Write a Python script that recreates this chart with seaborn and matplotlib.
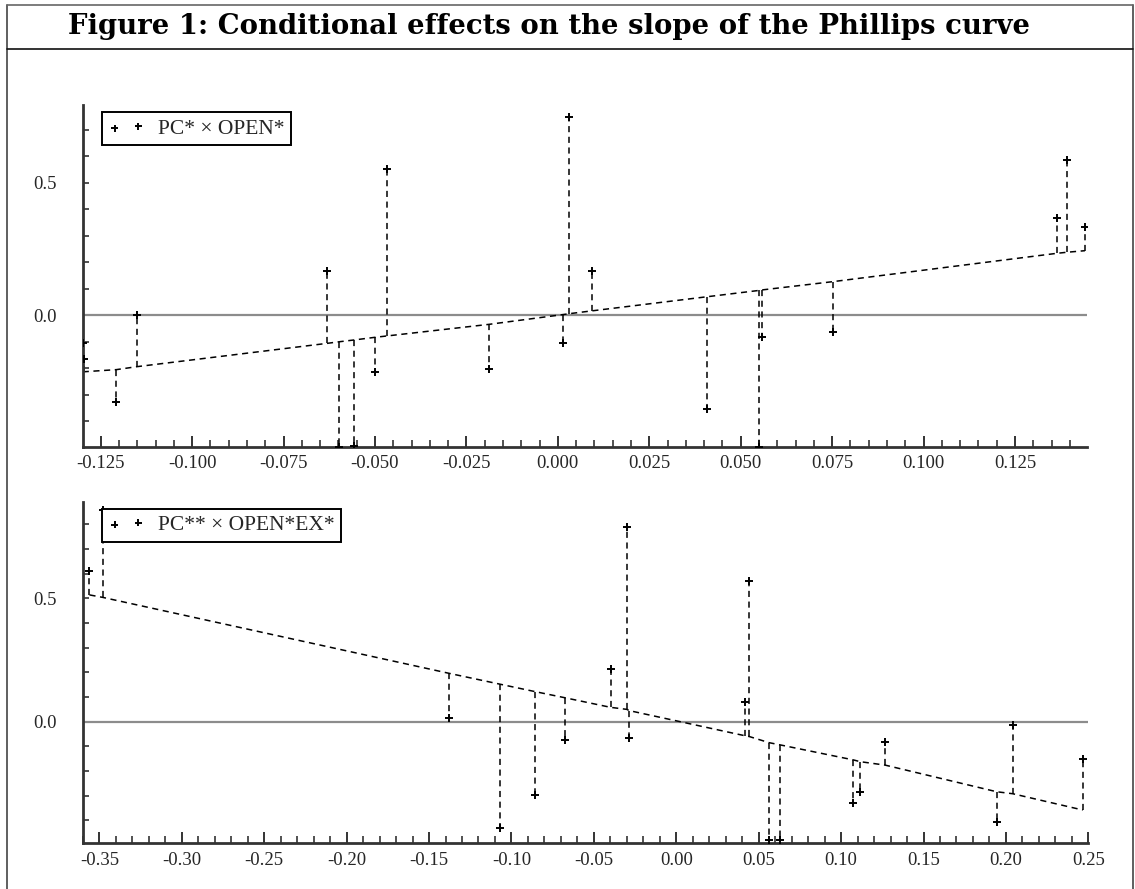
import matplotlib
matplotlib.use("Agg")
import matplotlib.pyplot as plt
from matplotlib.ticker import MultipleLocator, FormatStrFormatter
from matplotlib.lines import Line2D
import seaborn as sns
import pandas as pd

# ---------------- data ----------------
title = "Figure 1: Conditional effects on the slope of the Phillips curve"

top_label = "PC* × OPEN*"
top_x = [-0.1299, -0.1296, -0.1207, -0.1152, -0.0632, -0.0599, -0.0557, -0.0500,
         -0.0468, -0.0188, 0.0015, 0.0030, 0.0094, 0.0407, 0.0550, 0.0559,
         0.0751, 0.1364, 0.1391, 0.1441]
top_y = [-0.107, -0.167, -0.327, 0.000, 0.166, -0.497, -0.495, -0.214,
         0.550, -0.205, -0.107, 0.749, 0.167, -0.356, -0.497, -0.084,
         -0.063, 0.365, 0.586, 0.334]
top_fit = [-0.214, -0.214, -0.206, -0.195, -0.107, -0.101, -0.094, -0.084,
           -0.079, -0.035, 0.002, 0.005, 0.016, 0.069, 0.093, 0.095,
           0.126, 0.233, 0.237, 0.243]
top_xticks = [-0.125, -0.100, -0.075, -0.050, -0.025, 0.000, 0.025, 0.050, 0.075, 0.100, 0.125]

bot_label = "PC** × OPEN*EX*"
bot_x = [-0.356, -0.348, -0.1378, -0.1069, -0.0857, -0.0675, -0.0397, -0.0300,
         -0.0286, 0.0417, 0.0442, 0.0563, 0.0630, 0.1075, 0.1115, 0.1267,
         0.1944, 0.2041, 0.2466]
bot_y = [0.612, 0.858, 0.014, -0.432, -0.297, -0.074, 0.212, 0.788,
         -0.065, 0.081, 0.570, -0.480, -0.480, -0.328, -0.284, -0.081,
         -0.405, -0.013, -0.152]
bot_fit = [0.514, 0.504, 0.196, 0.152, 0.122, 0.097, 0.058, 0.050,
           0.045, -0.057, -0.060, -0.085, -0.094, -0.155, -0.162, -0.176,
           -0.284, -0.292, -0.358]
bot_xticks = [-0.35, -0.30, -0.25, -0.20, -0.15, -0.10, -0.05, 0.00, 0.05, 0.10, 0.15, 0.20, 0.25]

# ---------------- style ----------------
sns.set_theme(style="white")
plt.rcParams["font.family"] = ["Liberation Serif", "DejaVu Serif"]
plt.rcParams["axes.unicode_minus"] = False

fig = plt.figure(figsize=(11.35, 8.89), dpi=100)
fig.patch.set_facecolor("white")

# frame of the figure box
fig.add_artist(Line2D([7/1135, 7/1135], [0, 1 - 4.5/889], transform=fig.transFigure, color="#444444", lw=1.2))
fig.add_artist(Line2D([1133/1135, 1133/1135], [0, 1 - 4.5/889], transform=fig.transFigure, color="#444444", lw=1.2))
fig.add_artist(Line2D([7/1135, 1133/1135], [1 - 4.5/889, 1 - 4.5/889], transform=fig.transFigure, color="#666666", lw=1.2))
fig.add_artist(Line2D([7/1135, 1133/1135], [1 - 49/889, 1 - 49/889], transform=fig.transFigure, color="#111111", lw=1.2))

fig.text(68/1135, 1 - 27/889, title, fontfamily="DejaVu Serif", fontweight="bold",
         fontsize=19.8, va="center", ha="left", color="black")

ax1 = fig.add_axes([0.0729, 0.4975, 0.8846, 0.3844])
ax2 = fig.add_axes([0.0729, 0.0514, 0.8860, 0.3843])


def panel(ax, xs, ys, fits, label, xlim, ylim, xticks, xminor, xfmt):
    df = pd.DataFrame({"x": xs, "y": ys, "fit": fits})
    ax.axhline(0, color="#8c8c8c", lw=1.6, zorder=1)
    sns.lineplot(data=df.sort_values("x"), x="x", y="fit", estimator=None, sort=True,
                 ax=ax, color="black", lw=1.1, dashes=False, zorder=2)
    ax.lines[-1].set_dashes((4, 3))
    ax.vlines(df["x"], df["fit"], df["y"], colors="black", linestyles=(0, (4, 3)),
              lw=1.1, zorder=2)
    sns.scatterplot(data=df, x="x", y="y", ax=ax, marker="+", s=26, color="black",
                    linewidth=1.4, label=label, zorder=3)
    ax.set_xlim(*xlim)
    ax.set_ylim(*ylim)
    ax.set_xlabel("")
    ax.set_ylabel("")
    ax.set_xticks(xticks)
    ax.xaxis.set_minor_locator(MultipleLocator(xminor))
    ax.xaxis.set_major_formatter(FormatStrFormatter(xfmt))
    ax.yaxis.set_major_locator(MultipleLocator(0.5))
    ax.yaxis.set_minor_locator(MultipleLocator(0.1))
    ax.yaxis.set_major_formatter(FormatStrFormatter("%.1f"))
    for s in ["top", "right"]:
        ax.spines[s].set_visible(False)
    for s in ["left", "bottom"]:
        ax.spines[s].set_color("#333333")
        ax.spines[s].set_linewidth(2.0)
    ax.tick_params(axis="x", which="major", direction="in", length=8, width=1.4,
                   color="#333333", labelsize=13.5, pad=6, bottom=True)
    ax.tick_params(axis="x", which="minor", direction="in", length=5, width=1.2,
                   color="#333333", bottom=True)
    ax.tick_params(axis="y", which="both", direction="in", length=4, width=1.2,
                   color="#333333", labelsize=13.5, pad=19, left=True)
    leg = ax.legend(loc="upper left", bbox_to_anchor=(0.019, 0.979), borderaxespad=0,
                    scatterpoints=2, fancybox=False, framealpha=1, edgecolor="black",
                    fontsize=15.5, handlelength=1.7, handletextpad=0.6, borderpad=0.3)
    leg.get_frame().set_linewidth(1.4)


panel(ax1, top_x, top_y, top_fit, top_label, (-0.1299, 0.1446), (-0.497, 0.793),
      top_xticks, 0.005, "%.3f")
panel(ax2, bot_x, bot_y, bot_fit, bot_label, (-0.3601, 0.2500), (-0.493, 0.892),
      bot_xticks, 0.01, "%.2f")

fig.savefig("out.png", dpi=100)
